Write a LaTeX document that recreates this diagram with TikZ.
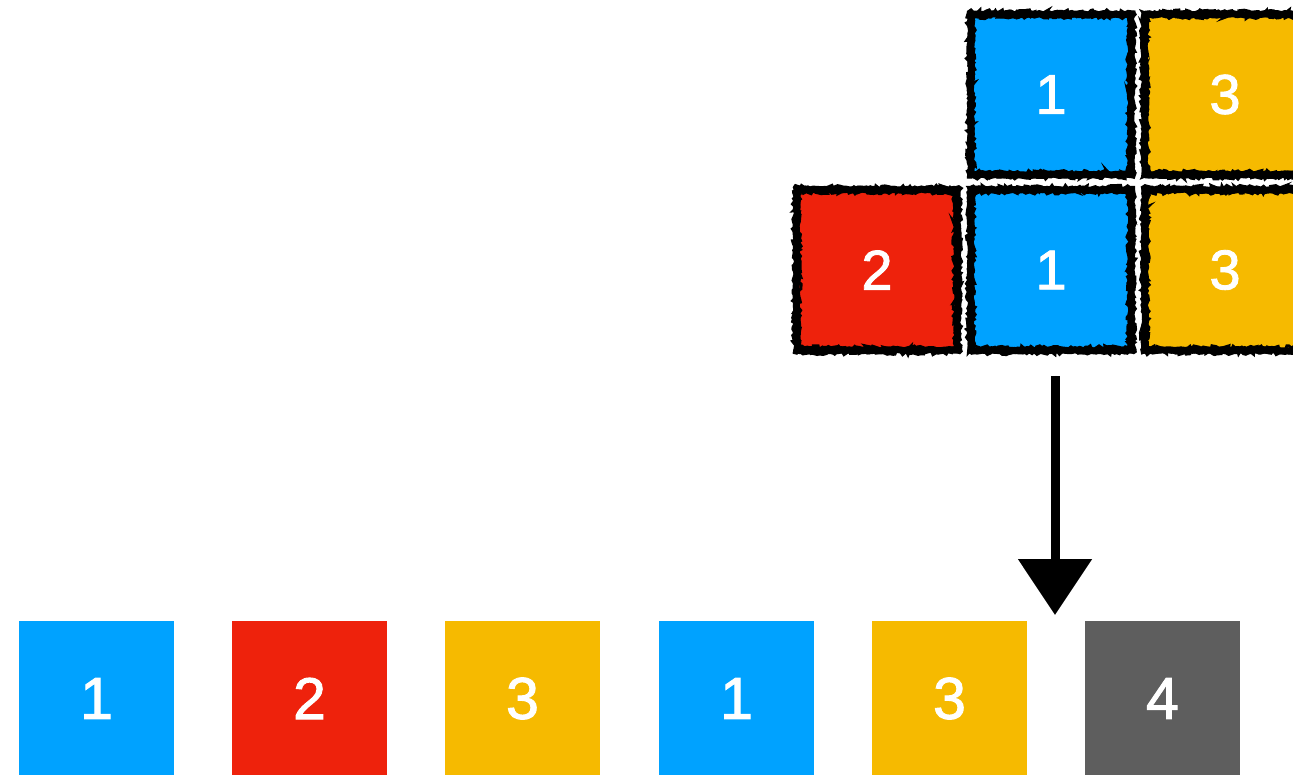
\documentclass[tikz,border=0pt]{standalone}
\usepackage{fontspec}
\setmainfont{Liberation Sans}
\newfontfamily\digitfont[FakeBold=1.6]{Liberation Sans}
\usetikzlibrary{decorations.pathmorphing,arrows.meta}
\definecolor{kblue}{HTML}{00A2FF}
\definecolor{kred}{HTML}{EE220C}
\definecolor{kyellow}{HTML}{F6BA00}
\definecolor{kgray}{HTML}{5E5E5E}
\tikzset{
  sq/.style={minimum size=155pt, inner sep=0pt, text=white, font=\digitfont\fontsize{59}{70}\selectfont},
  tsq/.style={minimum size=160pt, inner sep=0pt, text=white, font=\digitfont\fontsize{56}{66}\selectfont},
  sketch/.style={draw=black, line width=2.8pt, decorate, decoration={random steps, segment length=2.5pt, amplitude=2pt}},
  sketchA/.style={draw=black, line width=7pt, decorate, decoration={random steps, segment length=4pt, amplitude=0.8pt}},
  arrowline/.style={line width=9pt, draw=black},
}
\begin{document}
\begin{tikzpicture}[x=1pt,y=-1pt]
\useasboundingbox (0,0) rectangle (1293,774);
\clip (0,0) rectangle (1293,774);
% top grid
\node[tsq, fill=kblue]   (t12) at (1051,94.5) {1};
\node[tsq, fill=kyellow] (t13) at (1225,94.5) {3};
\node[tsq, fill=kred]    (t21) at (877,270) {2};
\node[tsq, fill=kblue]   (t22) at (1051,270) {1};
\node[tsq, fill=kyellow] (t23) at (1225,270) {3};
\pgfmathsetseed{7}
\foreach \n in {t12,t13,t21,t22,t23}{
  \draw[sketchA] (\n.north west) rectangle (\n.south east);
  \draw[sketch] ([shift={(-2.5pt,2.5pt)}]\n.north west) rectangle ([shift={(2.5pt,-2.5pt)}]\n.south east);
  \draw[sketch] ([shift={(2.5pt,-2.5pt)}]\n.north west) rectangle ([shift={(-2.5pt,2.5pt)}]\n.south east);
}
% bottom row
\node[sq, fill=kblue]   (b1) at (96.5,698.5) {1};
\node[sq, fill=kred]    (b2) at (309.5,698.5) {2};
\node[sq, fill=kyellow] (b3) at (522.5,698.5) {3};
\node[sq, fill=kblue]   (b4) at (736.5,698.5) {1};
\node[sq, fill=kyellow] (b5) at (949.5,698.5) {3};
\node[sq, fill=kgray]   (b6) at (1162.5,698.5) {4};
% arrow
\coordinate (aend) at (1055,615);
\draw[arrowline, -{Triangle[width=72pt,length=56pt]}] ([xshift=4pt,yshift=-26pt]t22.south) -- (aend);
\draw[black, line width=2.5pt, decorate, decoration={random steps, segment length=2pt, amplitude=1.5pt}]
  ([xshift=4pt,yshift=-26pt]t22.south) -- ++(0,190);
\end{tikzpicture}
\end{document}
